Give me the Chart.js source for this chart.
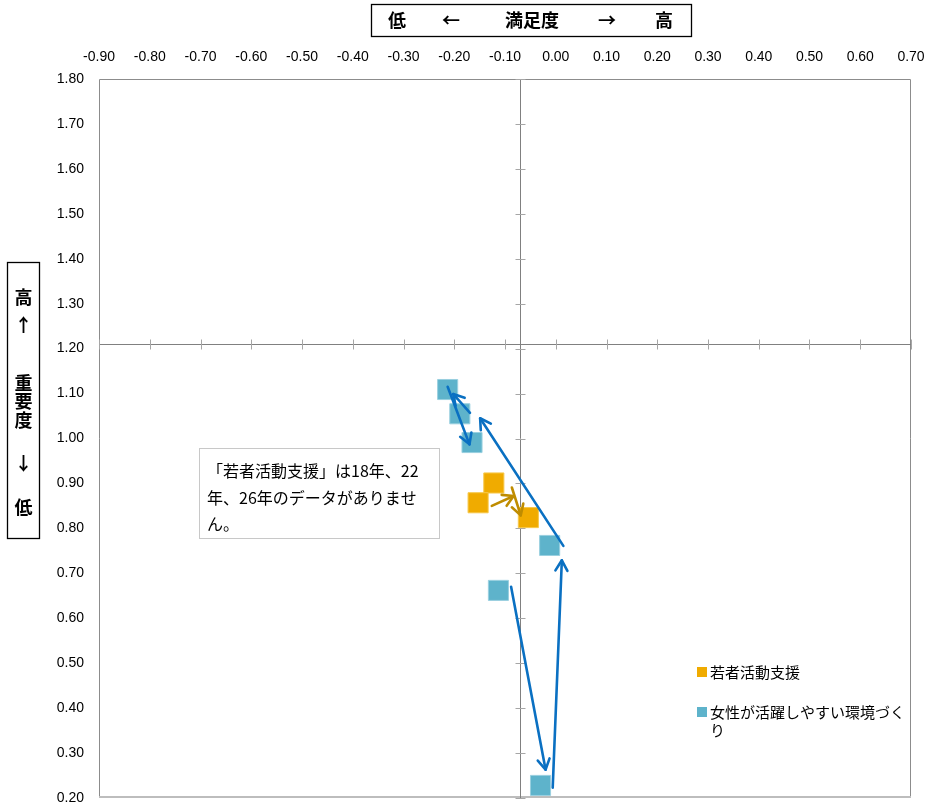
<!DOCTYPE html>
<html>
<head>
<meta charset="utf-8">
<script src="https://cdn.jsdelivr.net/npm/chart.js@4/dist/chart.umd.min.js"></script>
<style>
html,body{margin:0;padding:0;background:#fff;}
#wrap{width:927px;height:807px;position:relative;}
</style>
</head>
<body>
<div id="wrap"><canvas id="c" width="927" height="807"></canvas></div>
<script>
// ---- data ----
const xTicks = [-0.9,-0.8,-0.7,-0.6,-0.5,-0.4,-0.3,-0.2,-0.1,0,0.1,0.2,0.3,0.4,0.5,0.6,0.7];
const yTicks = [0.2,0.3,0.4,0.5,0.6,0.7,0.8,0.9,1.0,1.1,1.2,1.3,1.4,1.5,1.6,1.7,1.8];
const seriesNames = ['若者活動支援', '女性が活躍しやすい環境づくり'];
const youthX = [-0.122, -0.153, -0.054];
const youthY = [0.901, 0.857, 0.824];
const womenX = [-0.213, -0.189, -0.165, -0.012, -0.113, -0.030];
const womenY = [1.109, 1.055, 0.991, 0.762, 0.662, 0.228];
// arrows (start -> end)
const blueArrowX0 = [-0.213, -0.169, 0.015, -0.088, -0.006];
const blueArrowY0 = [1.115, 1.057, 0.761, 0.670, 0.223];
const blueArrowX1 = [-0.170, -0.202, -0.149, -0.020, 0.012];
const blueArrowY1 = [0.987, 1.099, 1.045, 0.263, 0.729];
const orangeArrowX0 = [-0.126, -0.0865];
const orangeArrowY0 = [0.850, 0.891];
const orangeArrowX1 = [-0.083, -0.069];
const orangeArrowY1 = [0.872, 0.829];
const crossX = -0.07;
const crossY = 1.21;
const xTitleParts = ['低', '←', '満足度', '→', '高'];
const yTitleParts = ['高', '↑', '重', '要', '度', '↓', '低'];
const noteLines = ['「若者活動支援」は18年、22', '年、26年のデータがありませ', 'ん。'];

const youthColor = '#F0AB00';
const womenColor = '#5EB3CB';
const CJK = "'Noto Sans CJK JP', sans-serif";

function toPts(xs, ys){ return xs.map((v,i)=>({x:v, y:ys[i]})); }

function drawArrow(ctx, x0, y0, x1, y1, color){
  const ang = Math.atan2(y1-y0, x1-x0);
  const L = 12, a = Math.PI/6;
  ctx.save();
  ctx.strokeStyle = color; ctx.lineWidth = 2.6; ctx.lineCap='round'; ctx.lineJoin='round';
  ctx.beginPath(); ctx.moveTo(x0,y0); ctx.lineTo(x1,y1); ctx.stroke();
  ctx.beginPath();
  ctx.moveTo(x1 - L*Math.cos(ang-a), y1 - L*Math.sin(ang-a));
  ctx.lineTo(x1,y1);
  ctx.lineTo(x1 - L*Math.cos(ang+a), y1 - L*Math.sin(ang+a));
  ctx.stroke();
  ctx.restore();
}

const overlay = {
  id:'overlay',
  beforeDatasetsDraw(chart){
    const {ctx, chartArea:a, scales:{x,y}} = chart;
    ctx.save();
    // plot border
    ctx.strokeStyle = '#8C8C8C'; ctx.lineWidth = 1;
    ctx.beginPath();
    ctx.moveTo(a.left+0.5, a.bottom); ctx.lineTo(a.left+0.5, a.top+0.5);
    ctx.lineTo(a.right-0.5, a.top+0.5); ctx.lineTo(a.right-0.5, a.bottom);
    ctx.stroke();
    ctx.strokeStyle = '#BDBDBD'; ctx.lineWidth = 2;
    ctx.beginPath(); ctx.moveTo(a.left, a.bottom-1); ctx.lineTo(a.right, a.bottom-1); ctx.stroke();
    // cross lines
    const cx = Math.round(x.getPixelForValue(crossX))+0.5;
    const cy = Math.round(y.getPixelForValue(crossY))+0.5;
    ctx.strokeStyle = '#808080'; ctx.lineWidth = 1;
    ctx.beginPath(); ctx.moveTo(cx, a.top); ctx.lineTo(cx, a.bottom); ctx.stroke();
    ctx.beginPath(); ctx.moveTo(a.left, cy); ctx.lineTo(a.right, cy); ctx.stroke();
    ctx.strokeStyle = '#A6A6A6';
    yTicks.forEach(v=>{
      const py = Math.round(y.getPixelForValue(v))+0.5;
      ctx.beginPath(); ctx.moveTo(cx-5, py); ctx.lineTo(cx+5, py); ctx.stroke();
    });
    xTicks.forEach(v=>{
      const px = Math.round(x.getPixelForValue(v))+0.5;
      ctx.beginPath(); ctx.moveTo(px, cy-5); ctx.lineTo(px, cy+5); ctx.stroke();
    });
    ctx.restore();
  },
  afterDatasetsDraw(chart){
    const {ctx, scales:{x,y}} = chart;
    blueArrowX0.forEach((v,i)=>{
      drawArrow(ctx, x.getPixelForValue(v), y.getPixelForValue(blueArrowY0[i]),
        x.getPixelForValue(blueArrowX1[i]), y.getPixelForValue(blueArrowY1[i]), '#0A70C2');
    });
    orangeArrowX0.forEach((v,i)=>{
      drawArrow(ctx, x.getPixelForValue(v), y.getPixelForValue(orangeArrowY0[i]),
        x.getPixelForValue(orangeArrowX1[i]), y.getPixelForValue(orangeArrowY1[i]), '#BF8C00');
    });
  },
  afterDraw(chart){
    const ctx = chart.ctx;
    ctx.save();
    // top title box
    ctx.fillStyle='#fff'; ctx.fillRect(371.5,4.5,320,32);
    ctx.strokeStyle='#000'; ctx.lineWidth=1.3; ctx.strokeRect(371.5,4.5,320,32);
    ctx.fillStyle='#000'; ctx.font = 'bold 18px '+CJK; ctx.textAlign='center'; ctx.textBaseline='middle';
    const tx = [397, 451, 532, 607, 664];
    xTitleParts.forEach((t,i)=>ctx.fillText(t, tx[i], 20.5));
    // left title box
    ctx.strokeRect(7.5,262.5,32,276);
    const ty = [297, 325, 383, 401.5, 420, 463, 507];
    yTitleParts.forEach((t,i)=>ctx.fillText(t, 23.5, ty[i]));
    // note box
    ctx.fillStyle='#fff'; ctx.fillRect(199.5,448.5,240,90);
    ctx.strokeStyle='#C8C8C8'; ctx.lineWidth=1; ctx.strokeRect(199.5,448.5,240,90);
    ctx.fillStyle='#000'; ctx.font = '16px '+CJK; ctx.textAlign='left';
    noteLines.forEach((t,i)=>ctx.fillText(t, 207, 471 + i*26.5));
    // legend
    const colors = [youthColor, womenColor];
    ctx.font = '15px '+CJK;
    const ly = [672, 712];
    seriesNames.forEach((name,i)=>{
      ctx.fillStyle = colors[i];
      ctx.fillRect(697, ly[i]-5, 10, 10);
      ctx.fillStyle = '#000';
      if (i===1) {
        ctx.fillText(name.slice(0, 13), 710, ly[i]);
        ctx.fillText(name.slice(13), 710, ly[i]+18);
      } else {
        ctx.fillText(name, 710, ly[i]);
      }
    });
    ctx.restore();
  }
};

const labelFont = {family:"'Liberation Sans', Arial, sans-serif", size:14};

new Chart(document.getElementById('c'), {
  type:'scatter',
  data:{
    datasets:[
      {label:seriesNames[0], data:toPts(youthX, youthY), backgroundColor:youthColor, borderColor:'#F7C84A', borderWidth:1, pointStyle:'rect', pointRadius:14.2, pointHoverRadius:14.2},
      {label:seriesNames[1], data:toPts(womenX, womenY), backgroundColor:womenColor, borderColor:'#9AD0E0', borderWidth:1, pointStyle:'rect', pointRadius:14.2, pointHoverRadius:14.2}
    ]
  },
  options:{
    responsive:false,
    animation:false,
    events:[],
    layout:{autoPadding:false, padding:{left:0, top:0, right:16, bottom:9}},
    plugins:{legend:{display:false}, tooltip:{enabled:false}},
    scales:{
      x:{
        type:'linear', position:'top', min:-0.9, max:0.7,
        afterBuildTicks(s){ s.ticks = xTicks.map(v=>({value:v})); },
        afterFit(s){ s.height = 79; s.paddingLeft = 0; s.paddingRight = 0; },
        grid:{display:false, drawTicks:false},
        border:{display:false},
        ticks:{padding:13, color:'#000', font:labelFont, maxRotation:0, autoSkip:false, callback:(v)=>v.toFixed(2)}
      },
      y:{
        type:'linear', position:'left', min:0.2, max:1.8,
        afterBuildTicks(s){ s.ticks = yTicks.map(v=>({value:v})); },
        afterFit(s){ s.width = 99; s.paddingTop = 0; s.paddingBottom = 0; },
        grid:{display:false, drawTicks:false},
        border:{display:false},
        ticks:{padding:15, color:'#000', font:labelFont, autoSkip:false, callback:(v)=>v.toFixed(2)}
      }
    }
  },
  plugins:[overlay]
});
</script>
</body>
</html>
